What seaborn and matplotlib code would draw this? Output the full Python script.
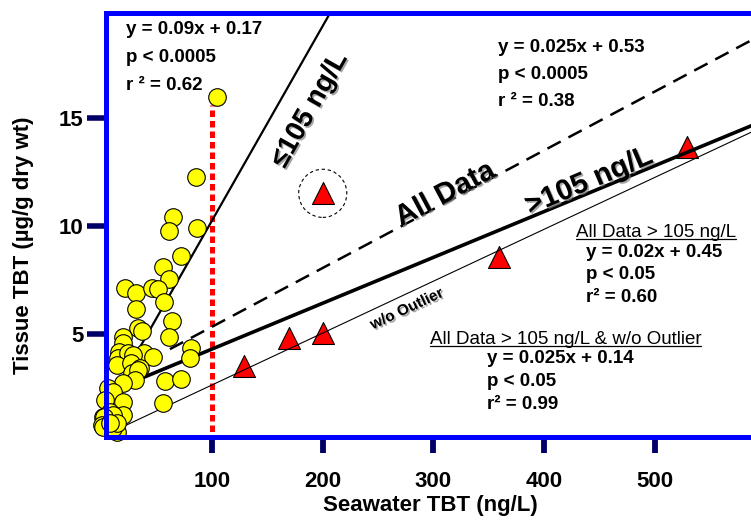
import numpy as np
import matplotlib.pyplot as plt
import matplotlib.patheffects as pe
from matplotlib.lines import Line2D
import seaborn as sns

# yellow circles: seawater <= 105 ng/L
low_x = [85.6, 65.1, 61.2, 86.7, 71.7, 55.5, 61.2, 21.4, 31.4, 45.6, 51.5, 56.9,
         31.4, 63.6, 33.5, 36.9, 61.2, 19.9, 19.9, 81.0, 80.1, 38.6, 47.0, 16.3,
         15.4, 24.5, 28.9, 13.9, 26.9, 35.0, 27.5, 33.5, 30.5, 19.9, 57.6, 71.7,
         6.4, 10.9, 3.4, 19.4, 55.5, 1.9, 19.9, 7.9, 10.9, 2.8, 0.4, 7.9, 13.9,
         1.9, 10.9, 13.9, 7.9, 104.5]
low_y = [12.26, 10.40, 9.76, 9.89, 8.62, 8.11, 7.53, 7.12, 6.91, 7.12, 7.07, 6.50,
         6.14, 5.62, 5.29, 5.15, 4.88, 4.88, 4.57, 4.34, 3.88, 4.11, 3.95, 4.18,
         3.88, 4.11, 4.03, 3.57, 3.65, 3.42, 3.19, 3.34, 2.88, 2.72, 2.84, 2.91,
         2.49, 2.33, 1.95, 1.87, 1.83, 1.18, 1.26, 1.41, 1.26, 1.15, 0.80, 0.72,
         0.49, 0.72, 0.64, 0.87, 0.87, 15.96]

# red triangles: seawater > 105 ng/L
high_x = [129.2, 169.1, 200.0, 359.2, 529.0, 200.0]
high_y = [3.52, 4.80, 5.06, 8.57, 13.65, 11.51]
outlier_x = [200.0]
outlier_y = [11.51]

# regression lines as drawn: (slope, intercept, x start, x end)
line_names = ['le105', 'all', 'gt105', 'no_outlier']
line_slope = [0.090, 0.0272, 0.0212, 0.0240]
line_icpt = [1.25, 2.62, 2.19, 0.25]
line_start = [35, 62, 35, 16]
line_end = [230, 600, 600, 600]

cutoff_x = 100
cutoff_top = 15.6

x_ticks = [100, 200, 300, 400, 500]
y_ticks = [5, 10, 15]

sns.set_style('white')
plt.rcParams['font.family'] = ['Liberation Sans', 'DejaVu Sans']
plt.rcParams['font.weight'] = 'bold'
plt.rcParams['text.color'] = 'black'
plt.rcParams['xtick.color'] = 'black'
plt.rcParams['ytick.color'] = 'black'

W, H = 751, 523
fig = plt.figure(figsize=(W / 100, H / 100), dpi=100)
ax = fig.add_axes([105.8 / W, 1 - 437.3 / H, 1 - 105.8 / W, (437.3 - 12.5) / H])


def px(x, y):
    return x / W, 1 - y / H


# cutoff line
ax.vlines(cutoff_x, 0, cutoff_top, colors='#ff0000', linewidth=3.6,
          linestyles=(0, (1.3, 0.8)), zorder=2)

# triangles
sns.scatterplot(x=high_x, y=high_y, marker='^', s=250, color='#ff0000',
                edgecolor='black', linewidth=0.8, ax=ax, zorder=3)
ax.scatter(outlier_x, outlier_y, s=1200, facecolors='none', edgecolors='black',
           linewidths=0.8, linestyles=(0, (3, 2.5)), zorder=3)

# regression lines
styles = {
    'le105': dict(lw=1.6, ls='-'),
    'all': dict(lw=1.8, ls=(0, (6, 3.5))),
    'gt105': dict(lw=2.6, ls='-'),
    'no_outlier': dict(lw=0.8, ls='-'),
}
for name, m, b, x0, x1 in zip(line_names, line_slope, line_icpt, line_start, line_end):
    xs = np.array([x0, x1])
    sns.lineplot(x=xs, y=m * xs + b, color='black', linewidth=styles[name]['lw'],
                 linestyle=styles[name]['ls'], ax=ax, zorder=3.5)

# yellow circles on top
sns.scatterplot(x=low_x, y=low_y, s=160, color='#ffff00', edgecolor='black',
                linewidth=0.8, ax=ax, zorder=4, clip_on=False)

ax.set_xlim(4.1, 586.7)
ax.set_ylim(0.23, 19.87)
ax.set_xticks(x_ticks)
ax.set_yticks(y_ticks)
ax.set_xlabel('')
ax.set_ylabel('')
ax.tick_params(axis='x', bottom=True, direction='out', length=11.5, width=4.2,
               color='#000066', labelcolor='black', pad=13, labelsize=16)
ax.tick_params(axis='y', left=True, direction='out', length=14, width=4.0,
               color='#000066', labelcolor='black', pad=2, labelsize=16)
for lab in ax.get_xticklabels() + ax.get_yticklabels():
    lab.set_fontweight('bold')
for s in ['left', 'bottom', 'top']:
    ax.spines[s].set_color('#0000ff')
    ax.spines[s].set_linewidth(3.6)
    ax.spines[s].set_zorder(5)
ax.spines['right'].set_visible(False)

fig.text(*px(430, 506), 'Seawater TBT (ng/L)', fontsize=16, fontweight='bold',
         ha='center', va='center', color='black')
fig.text(*px(24, 245), 'Tissue TBT (µg/g dry wt)', fontsize=16, fontweight='bold',
         rotation=90, ha='center', va='center', color='black')

# statistics blocks
blocks = [
    (126, [34.5, 62.5, 90.5], ['y = 0.09x + 0.17', 'p < 0.0005', 'r ² = 0.62']),
    (498, [51.5, 79, 106.5], ['y = 0.025x + 0.53', 'p < 0.0005', 'r ² = 0.38']),
    (586, [256.7, 279.3, 301.7], ['y = 0.02x + 0.45', 'p < 0.05', 'r² = 0.60']),
    (487, [363.3, 386, 409], ['y = 0.025x + 0.14', 'p < 0.05', 'r² = 0.99']),
]
for x0, ys, lines in blocks:
    for yy, txt in zip(ys, lines):
        fig.text(*px(x0, yy), txt, fontsize=13.5, fontweight='bold',
                 ha='left', va='baseline', color='black')

headers = [(575.5, 237, 'All Data > 105 ng/L'),
           (429.5, 343.5, 'All Data > 105 ng/L & w/o Outlier')]
head_txt = []
for x0, yy, txt in headers:
    t = fig.text(*px(x0, yy), txt, fontsize=13.5, fontweight='normal',
                 ha='left', va='baseline', color='black')
    head_txt.append((t, yy))

# rotated line labels with a soft shadow
shadow = [pe.SimplePatchShadow(offset=(1.2, -1.2), shadow_rgbFace='0.5', alpha=0.7),
          pe.Normal()]
rot_labels = [
    (310, 110, '≤105 ng/L', 60.5, 20),
    (445, 194, 'All Data', 28, 21),
    (589, 181, '>105 ng/L', 23, 21),
    (407, 309, 'w/o Outlier', 25, 11),
]
for x0, y0, txt, ang, fs in rot_labels:
    fig.text(*px(x0, y0), txt, fontsize=fs, fontweight='bold', rotation=ang,
             rotation_mode='anchor', ha='center', va='center', color='black',
             path_effects=shadow)

# underline the headers
fig.canvas.draw()
renderer = fig.canvas.get_renderer()
for t, yy in head_txt:
    bb = t.get_window_extent(renderer)
    uy = 1 - (yy + 2.2) / H
    fig.add_artist(Line2D([bb.x0 / W, bb.x1 / W], [uy, uy], transform=fig.transFigure,
                          color='black', linewidth=0.9))

fig.savefig('out.png', dpi=100)
